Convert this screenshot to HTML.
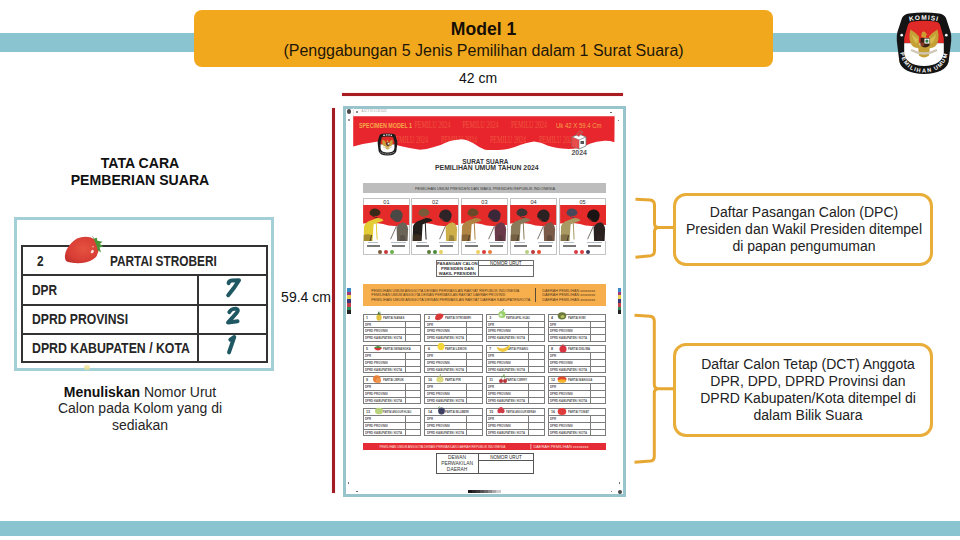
<!DOCTYPE html>
<html><head><meta charset="utf-8">
<style>
*{margin:0;padding:0;box-sizing:border-box}
html,body{width:960px;height:540px;overflow:hidden;background:#fff}
body{position:relative;font-family:"Liberation Sans",sans-serif;color:#111}
.a{position:absolute}
svg{display:block}
.c{text-align:center;white-space:nowrap}
.tt{position:absolute;font-size:13.8px;font-weight:bold;line-height:15px;color:#262626;transform:scaleX(0.858);transform-origin:0 0;white-space:nowrap}
</style></head><body>
<!-- top blue bar -->
<div class="a" style="left:0;top:33px;width:960px;height:18.5px;background:#89C4D0"></div>
<!-- orange title box -->
<div class="a" style="left:194px;top:10px;width:579px;height:57px;background:#F2A81D;border-radius:8px"></div>
<div class="a c" style="left:194px;top:19.3px;width:579px;font-size:17.6px;font-weight:bold;line-height:20px;color:#150f05">Model 1</div>
<div class="a c" style="left:194px;top:40.5px;width:579px;font-size:16px;line-height:19px;color:#1d160a">(Penggabungan 5 Jenis Pemilihan dalam 1 Surat Suara)</div>

<!-- logo -->
<svg class="a" style="left:892px;top:8px" width="64" height="70" viewBox="0 0 64 70">
<defs>
<path id="kt" d="M14.5 14.2 Q32 9.2 49.5 14.2"/>
<path id="kb" d="M7.8 39 Q9 64.4 32 64.4 Q55 64.4 56.2 39"/>
<clipPath id="kc"><path d="M19.5 13.8 Q32 11.8 44.5 13.8 Q47 14.3 48 16.8 L51.8 30 L51.8 45 Q50 57.5 32 58 Q14 57.5 12.2 45 L12.2 30 L16 16.8 Q17 14.3 19.5 13.8 Z"/></clipPath>
</defs>
<path d="M17 5.6 Q32 3.6 47 5.6 Q52 6.2 54 10 L58.6 24 Q59.6 28 59.2 33 L56.6 54 Q53 65.6 32 65.9 Q11 65.6 7.4 54 L4.8 33 Q4.4 28 5.4 24 L10 10 Q12 6.2 17 5.6 Z" fill="#141414"/>
<g clip-path="url(#kc)">
<rect x="0" y="0" width="64" height="35.2" fill="#E02A27"/>
<rect x="0" y="35.2" width="64" height="34" fill="#fff"/>
</g>
<!-- garuda -->
<path d="M28 38.5 Q26.5 33 27 28.5 Q23 24 18.5 21.5 Q17 26 17.6 31 Q18.5 36.5 21 38.5 Q24 40.5 28 40 Z" fill="#C4A035"/>
<path d="M36 38.5 Q37.5 33 37 28.5 Q41 24 45.5 21.5 Q47 26 46.4 31 Q45.5 36.5 43 38.5 Q40 40.5 36 40 Z" fill="#C4A035"/>
<path d="M25 36 Q21 33 20 26 Q23 30 26 31 Z" fill="#DCC458" opacity="0.8"/>
<path d="M39 36 Q43 33 44 26 Q41 30 38 31 Z" fill="#DCC458" opacity="0.8"/>
<path d="M29.5 29 Q29 24.5 31 23.5 Q33.5 23 34 25.5 L35.5 27 L33.8 27.5 L34.5 30 Z" fill="#CE9E32"/>
<path d="M26 38 L38 38 L37 47.5 Q32 51.5 27 47.5 Z" fill="#C4A035"/>
<path d="M19 42 Q32 49 45 42" stroke="#CFC8B8" stroke-width="2.4" fill="none"/>
<path d="M28.5 30 L37.6 30 L37.6 37.5 Q33 41.5 28.5 37.5 Z" fill="#3a2418"/>
<rect x="32.4" y="30.6" width="5" height="5" fill="#F4F4F4"/>
<circle cx="34.9" cy="33.1" r="1.6" fill="#2E7D4A"/>
<rect x="28.8" y="34.6" width="3.4" height="3.4" fill="#8B3A22"/>
<circle cx="9.7" cy="27.2" r="1.35" fill="#fff"/>
<circle cx="54.3" cy="27.2" r="1.35" fill="#fff"/>
<text font-family="Liberation Sans" font-weight="bold" font-size="6.6" fill="#fff" letter-spacing="1"><textPath href="#kt" startOffset="50%" text-anchor="middle">KOMISI</textPath></text>
<text font-family="Liberation Sans" font-weight="bold" font-size="5.6" fill="#fff" letter-spacing="1.3"><textPath href="#kb" startOffset="50%" text-anchor="middle">PEMILIHAN UMUM</textPath></text>
</svg>

<!-- 42 cm -->
<div class="a c" style="left:428px;top:70px;width:100px;font-size:14px;line-height:16px;color:#111">42 cm</div>
<div class="a" style="left:342px;top:93px;width:281px;height:2.6px;background:#A81C22;box-shadow:0 0 1px rgba(235,90,95,0.7)"></div>
<!-- vertical red -->
<div class="a" style="left:332.4px;top:107.6px;width:2.5px;height:385.6px;background:#A21C24;box-shadow:0 0 1px rgba(235,90,95,0.7)"></div>
<div class="a c" style="left:281px;top:289px;width:50px;font-size:14px;line-height:16px;color:#111">59.4 cm</div>

<!-- ballot frame -->
<!-- BALLOT START -->
<div class="a" style="left:343px;top:106px;width:283px;height:391px;border:3px solid #97C4CD;background:#fff"></div>
<div class="a" style="left:353px;top:108.4px;width:1px;height:8px;background:#e6e6e6"></div>
<div class="a" style="left:346.8px;top:109.39999999999999px;width:4.4px;height:4.4px;border-radius:50%;background:#4a4a4a"></div>
<div class="a" style="left:356.3px;top:110.8px;width:1.8px;height:1.8px;border-radius:50%;background:#666"></div>
<div class="a" style="left:348.1px;top:119.1px;width:1.8px;height:1.8px;border-radius:50%;background:#777"></div>
<div class="a" style="left:610.1px;top:111.9px;width:1.6px;height:1.6px;border-radius:50%;background:#555"></div>
<div class="a" style="left:617.8000000000001px;top:119.60000000000001px;width:1.6px;height:1.6px;border-radius:50%;background:#555"></div>
<div class="a" style="left:347.9px;top:482.2px;width:1.6px;height:1.6px;border-radius:50%;background:#555"></div>
<div class="a" style="left:356.2px;top:490.5px;width:1.6px;height:1.6px;border-radius:50%;background:#555"></div>
<div class="a" style="left:618.5px;top:482.2px;width:1.6px;height:1.6px;border-radius:50%;background:#555"></div>
<div class="a" style="left:610.5px;top:490.9px;width:1.6px;height:1.6px;border-radius:50%;background:#555"></div>
<div class="a" style="left:617.6px;top:489.59999999999997px;width:4.2px;height:4.2px;border-radius:50%;background:#4a4a4a"></div>
<svg class="a" style="left:360px;top:108px" width="30" height="5" viewBox="0 0 30 5"><text x="1.5" y="3.8" textLength="25" lengthAdjust="spacingAndGlyphs" font-family="Liberation Sans" font-size="3.4" fill="#9a9a9a">A 42 X 59 4 CM 2024</text></svg>
<svg class="a" style="left:350px;top:112px" width="270" height="48" viewBox="350 112 270 48">
<defs><clipPath id="rbclip"><path d="M353.2 116.2 L614.6 116.2 L614.4 142.2 Q609 140.5 604.5 140.8 Q596 141.6 590.5 143.6 Q583 147.5 576 148.6 Q569 149.2 562 148.6 Q553 147.5 548 145.8 Q541 142 534 141.5 Q526 142.5 520 145 Q510 149.5 499 150 Q490 150 485 149.7 Q478 147 473.8 143.6 Q466 139 459.7 139.4 Q453 140 448.5 141.5 Q440 145.5 434 147 Q426 149.7 420 149.7 Q410 148.5 399 145.8 Q390 142 378 141.5 Q366 143 353.2 146.5 Z"/></clipPath></defs>
<path d="M353.2 116.2 L614.6 116.2 L614.4 142.2 Q609 140.5 604.5 140.8 Q596 141.6 590.5 143.6 Q583 147.5 576 148.6 Q569 149.2 562 148.6 Q553 147.5 548 145.8 Q541 142 534 141.5 Q526 142.5 520 145 Q510 149.5 499 150 Q490 150 485 149.7 Q478 147 473.8 143.6 Q466 139 459.7 139.4 Q453 140 448.5 141.5 Q440 145.5 434 147 Q426 149.7 420 149.7 Q410 148.5 399 145.8 Q390 142 378 141.5 Q366 143 353.2 146.5 Z" fill="#E8262D"/>
<g font-family="Liberation Serif" font-size="9.6" fill="#F5774F" opacity="0.55" clip-path="url(#rbclip)">
<text x="414.4" y="128" textLength="36" lengthAdjust="spacingAndGlyphs">PEMILU 2024</text>
<text x="462.5" y="128" textLength="36" lengthAdjust="spacingAndGlyphs">PEMILU 2024</text>
<text x="511" y="128" textLength="36" lengthAdjust="spacingAndGlyphs">PEMILU 2024</text>
<text x="392" y="143" textLength="36" lengthAdjust="spacingAndGlyphs">PEMILU 2024</text>
<text x="441" y="143" textLength="36" lengthAdjust="spacingAndGlyphs">PEMILU 2024</text>
<text x="490" y="143" textLength="36" lengthAdjust="spacingAndGlyphs">PEMILU 2024</text>
<text x="539" y="143" textLength="36" lengthAdjust="spacingAndGlyphs">PEMILU 2024</text>
</g>
<text x="359" y="128" textLength="53" lengthAdjust="spacingAndGlyphs" font-family="Liberation Sans" font-weight="bold" font-size="7" fill="#F7A84A">SPECIMEN MODEL 1</text>
<text x="556" y="128" textLength="45.5" lengthAdjust="spacingAndGlyphs" font-family="Liberation Sans" font-size="7" fill="#F7A24A">Uk 42 X 59.4 Cm</text>
</svg>
<svg class="a" style="left:377.4px;top:133.4px" width="21" height="22.6" viewBox="4.4 3.4 55.2 62.8">
<defs><clipPath id="kc2"><path d="M19.5 13.8 Q32 11.8 44.5 13.8 Q47 14.3 48 16.8 L51.8 30 L51.8 45 Q50 57.5 32 58 Q14 57.5 12.2 45 L12.2 30 L16 16.8 Q17 14.3 19.5 13.8 Z"/></clipPath></defs>
<path d="M17 5.6 Q32 3.6 47 5.6 Q52 6.2 54 10 L58.6 24 Q59.6 28 59.2 33 L56.6 54 Q53 65.6 32 65.9 Q11 65.6 7.4 54 L4.8 33 Q4.4 28 5.4 24 L10 10 Q12 6.2 17 5.6 Z" fill="#1c1c1c"/>
<g clip-path="url(#kc2)"><rect x="0" y="0" width="64" height="35.2" fill="#E02A27"/><rect x="0" y="35.2" width="64" height="34" fill="#fff"/></g>
<path d="M28 38.5 Q26.5 33 27 28.5 Q23 24 18.5 21.5 Q17 26 17.6 31 Q18.5 36.5 21 38.5 Q24 40.5 28 40 Z" fill="#C9A035"/>
<path d="M36 38.5 Q37.5 33 37 28.5 Q41 24 45.5 21.5 Q47 26 46.4 31 Q45.5 36.5 43 38.5 Q40 40.5 36 40 Z" fill="#C9A035"/>
<path d="M29.5 29 Q29 24.5 31 23.5 Q33.5 23 34 25.5 L35.5 27 L33.8 27.5 L34.5 30 Z" fill="#CE9E32"/>
<path d="M26 38 L38 38 L37 47.5 Q32 51.5 27 47.5 Z" fill="#C9A035"/>
<path d="M19 42 Q32 49 45 42" stroke="#D8D0B8" stroke-width="2.6" fill="none"/>
<path d="M28.5 30 L37.6 30 L37.6 37.5 Q33 41.5 28.5 37.5 Z" fill="#4a2a18"/>
<rect x="32.4" y="30.6" width="5" height="5" fill="#eee"/>
<g fill="#fff" opacity="0.85"><rect x="20" y="8" width="5" height="3.5"/><rect x="27.5" y="7" width="4.5" height="3.5"/><rect x="34" y="7" width="4.5" height="3.5"/><rect x="40.5" y="8" width="4" height="3.5"/></g>
<path d="M12 56 Q32 68 52 56" stroke="#fff" stroke-width="2.5" stroke-dasharray="3 1.6" fill="none" opacity="0.7"/>
</svg>
<svg class="a" style="left:569px;top:129px" width="20" height="27" viewBox="0 0 20 27">
<path d="M3 8 L10 5 L17 8 L17 17 L10 20 L3 17 Z" fill="#fff" stroke="#777" stroke-width="0.8"/>
<path d="M3 8 L10 11 L17 8 M10 11 L10 20" fill="none" stroke="#777" stroke-width="0.7"/>
<path d="M3 8 L10 11 L10 20 L3 17 Z" fill="#E63A3A" opacity="0.9"/>
<path d="M7 6 L11 1.5 L14 3 L10 7.5 Z" fill="#E63A3A" stroke="#888" stroke-width="0.5"/>
<rect x="11.5" y="12" width="3.5" height="3" fill="#555"/>
<text x="2.5" y="25.6" textLength="15.5" lengthAdjust="spacingAndGlyphs" font-family="Liberation Sans" font-size="6.6" font-weight="bold" fill="#555">2024</text>
</svg>
<svg class="a" style="left:420px;top:155px" width="131" height="18" viewBox="0 0 131 18"><g font-family="Liberation Sans" font-weight="bold" font-size="6.9" fill="#333"><text x="42.3" y="8.6" textLength="46.2" lengthAdjust="spacingAndGlyphs">SURAT SUARA</text><text x="15" y="15.4" textLength="103.6" lengthAdjust="spacingAndGlyphs">PEMILIHAN UMUM TAHUN 2024</text></g></svg>
<div class="a" style="left:363px;top:183px;width:243px;height:10px;background:#BDBDBD"></div>
<div class="a" style="left:363px;top:185.8px;width:243px;height:5px;overflow:hidden"><svg width="243" height="5" viewBox="0 0 243 5"><text x="52" y="3.9" textLength="140" lengthAdjust="spacingAndGlyphs" font-family="Liberation Sans" font-size="4" fill="#3a3a3a">PEMILIHAN UMUM PRESIDEN DAN WAKIL PRESIDEN REPUBLIK INDONESIA</text></svg></div>
<div class="a" style="left:362.5px;top:198.2px;width:47.8px;height:56.8px;border:0.8px solid #c4c4c4;background:#fff"></div>
<div class="a c" style="left:362.5px;top:199.6px;width:47.8px;font-size:5.6px;line-height:5px;color:#333">01</div>
<svg class="a" style="left:363.3px;top:205px" width="46.199999999999996" height="36" viewBox="0 0 46 36">
<rect x="0" y="0" width="46" height="36" fill="#fff"/>
<path d="M0 0 H46 V20 Q40 19 34 21 Q26 21.5 20 19 Q12 17.5 0 18.5 Z" fill="#E52A2A"/>
<path d="M0.5 36 L1 21 Q3 16.5 7.5 15.5 L14 13 Q19 12.8 20.5 15.5 Q17 17 13.5 18 L10.5 19.5 L9.5 36 Z" fill="#E4CC34"/>
<path d="M0.5 30 Q4.5 28.5 8.5 30 L9 36 H0.5 Z" fill="#5a4028" opacity="0.45"/>
<path d="M6.5 7.5 Q7.5 3.5 12 3.6 Q16.5 4.2 17.5 7.8 Q17 10.5 14 11 Q10 11.2 8 10.5 Q6.2 9.3 6.5 7.5 Z" fill="#3a2818"/>
<path d="M9.5 11 Q12 12.8 14.5 12.5" stroke="#3a2818" stroke-width="0.9" fill="none"/>
<path d="M13.2 18 L14 34.5" stroke="#E4CC34" stroke-width="1"/>
<path d="M7 36 L8.5 30" stroke="#3a3028" stroke-width="0.8"/>
<path d="M27 11.5 Q27.5 5 33 4.4 Q38.5 4.6 39.5 9 Q40 14 36 17 Q30 17.5 27 11.5 Z" fill="#4a4844"/>
<path d="M28 12.5 Q29.8 16 32.5 17 Q31 13.5 28 12.5 Z" fill="#B03030" opacity="0.8"/>
<path d="M34 36 L33.5 22.5 Q36 17.5 40.5 17.2 Q44.5 19 45 24 L44.5 36 Z" fill="#6a6358"/>
<path d="M36.5 36 L37.5 30 L41.5 30.5 L42.5 36 Z" fill="#3a3028" opacity="0.35"/>
<path d="M33.6 20.5 L27.5 34.2" stroke="#5a5048" stroke-width="0.8"/>
</svg>
<div class="a" style="left:368.0px;top:242.2px;width:10px;height:0.8px;background:#b4bcc8"></div>
<div class="a" style="left:390.5px;top:242.2px;width:15px;height:0.8px;background:#b4bcc8"></div>
<div class="a" style="left:367.0px;top:245px;width:13px;height:1.6px;background:#777"></div>
<div class="a" style="left:391.5px;top:245px;width:13px;height:1.6px;background:#777"></div>
<div class="a" style="left:378.0px;top:249.6px;width:4.2px;height:4px;border-radius:50%;background:#7a5a3a"></div>
<div class="a" style="left:384.0px;top:249.6px;width:4.2px;height:4px;border-radius:50%;background:#c83a3a"></div>
<div class="a" style="left:390.0px;top:249.6px;width:4.2px;height:4px;border-radius:50%;background:#6ab04a"></div>
<div class="a" style="left:411.3px;top:198.2px;width:47.8px;height:56.8px;border:0.8px solid #c4c4c4;background:#fff"></div>
<div class="a c" style="left:411.3px;top:199.6px;width:47.8px;font-size:5.6px;line-height:5px;color:#333">02</div>
<svg class="a" style="left:412.1px;top:205px" width="46.199999999999996" height="36" viewBox="0 0 46 36">
<rect x="0" y="0" width="46" height="36" fill="#fff"/>
<path d="M0 0 H46 V20 Q40 19 34 21 Q26 21.5 20 19 Q12 17.5 0 18.5 Z" fill="#E52A2A"/>
<path d="M0.5 36 L1 21 Q3 16.5 7.5 15.5 L14 13 Q19 12.8 20.5 15.5 Q17 17 13.5 18 L10.5 19.5 L9.5 36 Z" fill="#221c1a"/>
<path d="M0.5 30 Q4.5 28.5 8.5 30 L9 36 H0.5 Z" fill="#5a4028" opacity="0.45"/>
<path d="M6.5 7.5 Q7.5 3.5 12 3.6 Q16.5 4.2 17.5 7.8 Q17 10.5 14 11 Q10 11.2 8 10.5 Q6.2 9.3 6.5 7.5 Z" fill="#7a5a38"/>
<path d="M9.5 11 Q12 12.8 14.5 12.5" stroke="#7a5a38" stroke-width="0.9" fill="none"/>
<path d="M13.2 18 L14 34.5" stroke="#221c1a" stroke-width="1"/>
<path d="M7 36 L8.5 30" stroke="#3a3028" stroke-width="0.8"/>
<path d="M27 11.5 Q27.5 5 33 4.4 Q38.5 4.6 39.5 9 Q40 14 36 17 Q30 17.5 27 11.5 Z" fill="#2e2428"/>
<path d="M28 12.5 Q29.8 16 32.5 17 Q31 13.5 28 12.5 Z" fill="#B03030" opacity="0.8"/>
<path d="M34 36 L33.5 22.5 Q36 17.5 40.5 17.2 Q44.5 19 45 24 L44.5 36 Z" fill="#CDAE48"/>
<path d="M36.5 36 L37.5 30 L41.5 30.5 L42.5 36 Z" fill="#3a3028" opacity="0.35"/>
<path d="M33.6 20.5 L27.5 34.2" stroke="#5a5048" stroke-width="0.8"/>
</svg>
<div class="a" style="left:416.8px;top:242.2px;width:10px;height:0.8px;background:#b4bcc8"></div>
<div class="a" style="left:439.3px;top:242.2px;width:15px;height:0.8px;background:#b4bcc8"></div>
<div class="a" style="left:415.8px;top:245px;width:13px;height:1.6px;background:#777"></div>
<div class="a" style="left:440.3px;top:245px;width:13px;height:1.6px;background:#777"></div>
<div class="a" style="left:426.8px;top:249.6px;width:4.2px;height:4px;border-radius:50%;background:#5a7a3a"></div>
<div class="a" style="left:432.8px;top:249.6px;width:4.2px;height:4px;border-radius:50%;background:#4a8a3a"></div>
<div class="a" style="left:438.8px;top:249.6px;width:4.2px;height:4px;border-radius:50%;background:#e6d060"></div>
<div class="a" style="left:460.5px;top:198.2px;width:47.8px;height:56.8px;border:0.8px solid #c4c4c4;background:#fff"></div>
<div class="a c" style="left:460.5px;top:199.6px;width:47.8px;font-size:5.6px;line-height:5px;color:#333">03</div>
<svg class="a" style="left:461.3px;top:205px" width="46.199999999999996" height="36" viewBox="0 0 46 36">
<rect x="0" y="0" width="46" height="36" fill="#fff"/>
<path d="M0 0 H46 V20 Q40 19 34 21 Q26 21.5 20 19 Q12 17.5 0 18.5 Z" fill="#E52A2A"/>
<path d="M0.5 36 L1 21 Q3 16.5 7.5 15.5 L14 13 Q19 12.8 20.5 15.5 Q17 17 13.5 18 L10.5 19.5 L9.5 36 Z" fill="#B08442"/>
<path d="M0.5 30 Q4.5 28.5 8.5 30 L9 36 H0.5 Z" fill="#5a4028" opacity="0.45"/>
<path d="M6.5 7.5 Q7.5 3.5 12 3.6 Q16.5 4.2 17.5 7.8 Q17 10.5 14 11 Q10 11.2 8 10.5 Q6.2 9.3 6.5 7.5 Z" fill="#6a4828"/>
<path d="M9.5 11 Q12 12.8 14.5 12.5" stroke="#6a4828" stroke-width="0.9" fill="none"/>
<path d="M13.2 18 L14 34.5" stroke="#B08442" stroke-width="1"/>
<path d="M7 36 L8.5 30" stroke="#3a3028" stroke-width="0.8"/>
<path d="M27 11.5 Q27.5 5 33 4.4 Q38.5 4.6 39.5 9 Q40 14 36 17 Q30 17.5 27 11.5 Z" fill="#3a2838"/>
<path d="M28 12.5 Q29.8 16 32.5 17 Q31 13.5 28 12.5 Z" fill="#B03030" opacity="0.8"/>
<path d="M34 36 L33.5 22.5 Q36 17.5 40.5 17.2 Q44.5 19 45 24 L44.5 36 Z" fill="#6a3a4a"/>
<path d="M36.5 36 L37.5 30 L41.5 30.5 L42.5 36 Z" fill="#3a3028" opacity="0.35"/>
<path d="M33.6 20.5 L27.5 34.2" stroke="#5a5048" stroke-width="0.8"/>
</svg>
<div class="a" style="left:466.0px;top:242.2px;width:10px;height:0.8px;background:#b4bcc8"></div>
<div class="a" style="left:488.5px;top:242.2px;width:15px;height:0.8px;background:#b4bcc8"></div>
<div class="a" style="left:465.0px;top:245px;width:13px;height:1.6px;background:#777"></div>
<div class="a" style="left:489.5px;top:245px;width:13px;height:1.6px;background:#777"></div>
<div class="a" style="left:476.0px;top:249.6px;width:4.2px;height:4px;border-radius:50%;background:#f0d060"></div>
<div class="a" style="left:482.0px;top:249.6px;width:4.2px;height:4px;border-radius:50%;background:#d83a3a"></div>
<div class="a" style="left:488.0px;top:249.6px;width:4.2px;height:4px;border-radius:50%;background:#e8803a"></div>
<div class="a" style="left:509.6px;top:198.2px;width:47.8px;height:56.8px;border:0.8px solid #c4c4c4;background:#fff"></div>
<div class="a c" style="left:509.6px;top:199.6px;width:47.8px;font-size:5.6px;line-height:5px;color:#333">04</div>
<svg class="a" style="left:510.40000000000003px;top:205px" width="46.199999999999996" height="36" viewBox="0 0 46 36">
<rect x="0" y="0" width="46" height="36" fill="#fff"/>
<path d="M0 0 H46 V20 Q40 19 34 21 Q26 21.5 20 19 Q12 17.5 0 18.5 Z" fill="#E52A2A"/>
<path d="M0.5 36 L1 21 Q3 16.5 7.5 15.5 L14 13 Q19 12.8 20.5 15.5 Q17 17 13.5 18 L10.5 19.5 L9.5 36 Z" fill="#8a7a5a"/>
<path d="M0.5 30 Q4.5 28.5 8.5 30 L9 36 H0.5 Z" fill="#5a4028" opacity="0.45"/>
<path d="M6.5 7.5 Q7.5 3.5 12 3.6 Q16.5 4.2 17.5 7.8 Q17 10.5 14 11 Q10 11.2 8 10.5 Q6.2 9.3 6.5 7.5 Z" fill="#3a3434"/>
<path d="M9.5 11 Q12 12.8 14.5 12.5" stroke="#3a3434" stroke-width="0.9" fill="none"/>
<path d="M13.2 18 L14 34.5" stroke="#8a7a5a" stroke-width="1"/>
<path d="M7 36 L8.5 30" stroke="#3a3028" stroke-width="0.8"/>
<path d="M27 11.5 Q27.5 5 33 4.4 Q38.5 4.6 39.5 9 Q40 14 36 17 Q30 17.5 27 11.5 Z" fill="#2a2222"/>
<path d="M28 12.5 Q29.8 16 32.5 17 Q31 13.5 28 12.5 Z" fill="#B03030" opacity="0.8"/>
<path d="M34 36 L33.5 22.5 Q36 17.5 40.5 17.2 Q44.5 19 45 24 L44.5 36 Z" fill="#7a5a48"/>
<path d="M36.5 36 L37.5 30 L41.5 30.5 L42.5 36 Z" fill="#3a3028" opacity="0.35"/>
<path d="M33.6 20.5 L27.5 34.2" stroke="#5a5048" stroke-width="0.8"/>
</svg>
<div class="a" style="left:515.1px;top:242.2px;width:10px;height:0.8px;background:#b4bcc8"></div>
<div class="a" style="left:537.6px;top:242.2px;width:15px;height:0.8px;background:#b4bcc8"></div>
<div class="a" style="left:514.1px;top:245px;width:13px;height:1.6px;background:#777"></div>
<div class="a" style="left:538.6px;top:245px;width:13px;height:1.6px;background:#777"></div>
<div class="a" style="left:525.1px;top:249.6px;width:4.2px;height:4px;border-radius:50%;background:#b8d080"></div>
<div class="a" style="left:531.1px;top:249.6px;width:4.2px;height:4px;border-radius:50%;background:#b83a3a"></div>
<div class="a" style="left:537.1px;top:249.6px;width:4.2px;height:4px;border-radius:50%;background:#e84a2a"></div>
<div class="a" style="left:558.7px;top:198.2px;width:47.8px;height:56.8px;border:0.8px solid #c4c4c4;background:#fff"></div>
<div class="a c" style="left:558.7px;top:199.6px;width:47.8px;font-size:5.6px;line-height:5px;color:#333">05</div>
<svg class="a" style="left:559.5px;top:205px" width="46.199999999999996" height="36" viewBox="0 0 46 36">
<rect x="0" y="0" width="46" height="36" fill="#fff"/>
<path d="M0 0 H46 V20 Q40 19 34 21 Q26 21.5 20 19 Q12 17.5 0 18.5 Z" fill="#E52A2A"/>
<path d="M0.5 36 L1 21 Q3 16.5 7.5 15.5 L14 13 Q19 12.8 20.5 15.5 Q17 17 13.5 18 L10.5 19.5 L9.5 36 Z" fill="#A89A62"/>
<path d="M0.5 30 Q4.5 28.5 8.5 30 L9 36 H0.5 Z" fill="#5a4028" opacity="0.45"/>
<path d="M6.5 7.5 Q7.5 3.5 12 3.6 Q16.5 4.2 17.5 7.8 Q17 10.5 14 11 Q10 11.2 8 10.5 Q6.2 9.3 6.5 7.5 Z" fill="#4a4858"/>
<path d="M9.5 11 Q12 12.8 14.5 12.5" stroke="#4a4858" stroke-width="0.9" fill="none"/>
<path d="M13.2 18 L14 34.5" stroke="#A89A62" stroke-width="1"/>
<path d="M7 36 L8.5 30" stroke="#3a3028" stroke-width="0.8"/>
<path d="M27 11.5 Q27.5 5 33 4.4 Q38.5 4.6 39.5 9 Q40 14 36 17 Q30 17.5 27 11.5 Z" fill="#1a1414"/>
<path d="M28 12.5 Q29.8 16 32.5 17 Q31 13.5 28 12.5 Z" fill="#B03030" opacity="0.8"/>
<path d="M34 36 L33.5 22.5 Q36 17.5 40.5 17.2 Q44.5 19 45 24 L44.5 36 Z" fill="#2a2020"/>
<path d="M36.5 36 L37.5 30 L41.5 30.5 L42.5 36 Z" fill="#3a3028" opacity="0.35"/>
<path d="M33.6 20.5 L27.5 34.2" stroke="#5a5048" stroke-width="0.8"/>
</svg>
<div class="a" style="left:564.2px;top:242.2px;width:10px;height:0.8px;background:#b4bcc8"></div>
<div class="a" style="left:586.7px;top:242.2px;width:15px;height:0.8px;background:#b4bcc8"></div>
<div class="a" style="left:563.2px;top:245px;width:13px;height:1.6px;background:#777"></div>
<div class="a" style="left:587.7px;top:245px;width:13px;height:1.6px;background:#777"></div>
<div class="a" style="left:574.2px;top:249.6px;width:4.2px;height:4px;border-radius:50%;background:#d83a46"></div>
<div class="a" style="left:580.2px;top:249.6px;width:4.2px;height:4px;border-radius:50%;background:#e03a3a"></div>
<div class="a" style="left:586.2px;top:249.6px;width:4.2px;height:4px;border-radius:50%;background:#3e4060"></div>
<div class="a" style="left:436.3px;top:259.6px;width:97.4px;height:17px;border:0.9px solid #6a6a6a"></div>
<div class="a" style="left:478px;top:259.6px;width:0.9px;height:17px;background:#6a6a6a"></div>
<div class="a" style="left:478px;top:265px;width:55.7px;height:0.9px;background:#6a6a6a"></div>
<div class="a c" style="left:436.3px;top:261px;width:42px;font-size:4.3px;line-height:5px;font-weight:bold;color:#333">PASANGAN CALON<br>PRESIDEN DAN<br>WAKIL PRESIDEN</div>
<div class="a c" style="left:478px;top:260.8px;width:55.7px;font-size:4.6px;line-height:5px;color:#222">NOMOR URUT</div>
<div class="a" style="left:347.3px;top:288px;width:3.4px;height:26.4px;background:linear-gradient(180deg,#3b8ac8 0.00% 14.29%,#a03a7a 14.29% 28.57%,#e8d050 28.57% 42.86%,#3a3a7a 42.86% 57.14%,#c8404a 57.14% 71.43%,#2a8a5a 71.43% 85.71%,#222222 85.71% 100.00%)"></div>
<div class="a" style="left:618.1px;top:288px;width:3.4px;height:26.4px;background:linear-gradient(180deg,#3b8ac8 0.00% 14.29%,#a03a7a 14.29% 28.57%,#e8d050 28.57% 42.86%,#3a3a7a 42.86% 57.14%,#c8404a 57.14% 71.43%,#2a8a5a 71.43% 85.71%,#222222 85.71% 100.00%)"></div>
<div class="a" style="left:362.7px;top:284px;width:243.3px;height:22.2px;background:#F7AE4D"></div>
<svg class="a" style="left:362.7px;top:284px" width="243.3" height="22.2" viewBox="0 0 243.3 22.2"><g font-family="Liberation Sans" font-size="3.9" fill="#3a2a1a" opacity="0.85"><text x="8.3" y="8.0" textLength="148" lengthAdjust="spacingAndGlyphs">PEMILIHAN UMUM ANGGOTA DEWAN PERWAKILAN RAKYAT REPUBLIK INDONESIA</text><text x="179.3" y="8.0" textLength="53" lengthAdjust="spacingAndGlyphs">DAERAH PEMILIHAN xxxxxxxx</text><text x="8.3" y="12.4" textLength="134" lengthAdjust="spacingAndGlyphs">PEMILIHAN UMUM ANGGOTA DEWAN PERWAKILAN RAKYAT DAERAH PROVINSI</text><text x="179.3" y="12.4" textLength="53" lengthAdjust="spacingAndGlyphs">DAERAH PEMILIHAN xxxxxxxx</text><text x="8.3" y="16.8" textLength="159" lengthAdjust="spacingAndGlyphs">PEMILIHAN UMUM ANGGOTA DEWAN PERWAKILAN RAKYAT DAERAH KABUPATEN/KOTA</text><text x="179.3" y="16.8" textLength="53" lengthAdjust="spacingAndGlyphs">DAERAH PEMILIHAN xxxxxxxx</text></g></svg>
<div class="a" style="left:535px;top:288px;width:0.8px;height:14px;background:#5a4a3a"></div>
<div class="a" style="left:362.6px;top:314px;width:58.8px;height:28px;border:0.9px solid #7c7c7c;background:#fff"></div>
<div class="a" style="left:362.6px;top:320.6px;width:58.8px;height:0.9px;background:#7c7c7c"></div>
<div class="a" style="left:362.6px;top:327.4px;width:58.8px;height:0.9px;background:#7c7c7c"></div>
<div class="a" style="left:362.6px;top:334.4px;width:58.8px;height:0.9px;background:#7c7c7c"></div>
<div class="a" style="left:404.6px;top:320.6px;width:0.9px;height:21.4px;background:#7c7c7c"></div>
<div class="a" style="left:366.1px;top:315.6px;font-size:3.6px;line-height:4px;font-weight:bold;color:#444;white-space:nowrap">1</div>
<div class="a" style="left:383.0px;top:315.8px;font-size:3.4px;line-height:4px;font-weight:bold;color:#555;white-space:nowrap;transform:scaleX(0.85);transform-origin:0 0">PARTAI NANAS</div>
<div class="a" style="left:365.20000000000005px;top:322.6px;font-size:3.4px;line-height:4px;font-weight:bold;color:#555;white-space:nowrap;transform:scaleX(0.85);transform-origin:0 0">DPR</div>
<div class="a" style="left:365.20000000000005px;top:329.4px;font-size:3.4px;line-height:4px;font-weight:bold;color:#555;white-space:nowrap;transform:scaleX(0.85);transform-origin:0 0">DPRD PROVINSI</div>
<div class="a" style="left:365.20000000000005px;top:336.3px;font-size:3.4px;line-height:4px;font-weight:bold;color:#555;white-space:nowrap;transform:scaleX(0.85);transform-origin:0 0">DPRD KABUPATEN / KOTA</div>
<svg class="a" style="left:374.0px;top:311.2px" width="10" height="10" viewBox="0 0 10 10"><ellipse cx="5" cy="6.5" rx="2.6" ry="3.2" fill="#E2C23E"/><path d="M3.5 3.5 L4.5 0 L5.2 3 L6 0 L6.6 3.5 Z" fill="#3a6a2a"/></svg>
<div class="a" style="left:424.4px;top:314px;width:58.8px;height:28px;border:0.9px solid #7c7c7c;background:#fff"></div>
<div class="a" style="left:424.4px;top:320.6px;width:58.8px;height:0.9px;background:#7c7c7c"></div>
<div class="a" style="left:424.4px;top:327.4px;width:58.8px;height:0.9px;background:#7c7c7c"></div>
<div class="a" style="left:424.4px;top:334.4px;width:58.8px;height:0.9px;background:#7c7c7c"></div>
<div class="a" style="left:466.4px;top:320.6px;width:0.9px;height:21.4px;background:#7c7c7c"></div>
<div class="a" style="left:427.9px;top:315.6px;font-size:3.6px;line-height:4px;font-weight:bold;color:#444;white-space:nowrap">2</div>
<div class="a" style="left:444.79999999999995px;top:315.8px;font-size:3.4px;line-height:4px;font-weight:bold;color:#555;white-space:nowrap;transform:scaleX(0.85);transform-origin:0 0">PARTAI STROBERI</div>
<div class="a" style="left:427.0px;top:322.6px;font-size:3.4px;line-height:4px;font-weight:bold;color:#555;white-space:nowrap;transform:scaleX(0.85);transform-origin:0 0">DPR</div>
<div class="a" style="left:427.0px;top:329.4px;font-size:3.4px;line-height:4px;font-weight:bold;color:#555;white-space:nowrap;transform:scaleX(0.85);transform-origin:0 0">DPRD PROVINSI</div>
<div class="a" style="left:427.0px;top:336.3px;font-size:3.4px;line-height:4px;font-weight:bold;color:#555;white-space:nowrap;transform:scaleX(0.85);transform-origin:0 0">DPRD KABUPATEN / KOTA</div>
<svg class="a" style="left:434.4px;top:311.7px" width="10" height="9" viewBox="0 0 10 9"><path d="M1 7 Q1 2 5 1.5 Q9 1 9.5 3 Q9 7 5 8 Q2 8.5 1 7 Z" fill="#D83A3A"/></svg>
<div class="a" style="left:485.8px;top:314px;width:58.8px;height:28px;border:0.9px solid #7c7c7c;background:#fff"></div>
<div class="a" style="left:485.8px;top:320.6px;width:58.8px;height:0.9px;background:#7c7c7c"></div>
<div class="a" style="left:485.8px;top:327.4px;width:58.8px;height:0.9px;background:#7c7c7c"></div>
<div class="a" style="left:485.8px;top:334.4px;width:58.8px;height:0.9px;background:#7c7c7c"></div>
<div class="a" style="left:527.8px;top:320.6px;width:0.9px;height:21.4px;background:#7c7c7c"></div>
<div class="a" style="left:489.3px;top:315.6px;font-size:3.6px;line-height:4px;font-weight:bold;color:#444;white-space:nowrap">3</div>
<div class="a" style="left:506.2px;top:315.8px;font-size:3.4px;line-height:4px;font-weight:bold;color:#555;white-space:nowrap;transform:scaleX(0.72);transform-origin:0 0">PARTAI APEL HIJAU</div>
<div class="a" style="left:488.40000000000003px;top:322.6px;font-size:3.4px;line-height:4px;font-weight:bold;color:#555;white-space:nowrap;transform:scaleX(0.85);transform-origin:0 0">DPR</div>
<div class="a" style="left:488.40000000000003px;top:329.4px;font-size:3.4px;line-height:4px;font-weight:bold;color:#555;white-space:nowrap;transform:scaleX(0.85);transform-origin:0 0">DPRD PROVINSI</div>
<div class="a" style="left:488.40000000000003px;top:336.3px;font-size:3.4px;line-height:4px;font-weight:bold;color:#555;white-space:nowrap;transform:scaleX(0.85);transform-origin:0 0">DPRD KABUPATEN / KOTA</div>
<svg class="a" style="left:496.8px;top:309.2px" width="10" height="10" viewBox="0 0 10 10"><circle cx="5" cy="5.5" r="3.6" fill="#9AD06A"/><path d="M5.5 2 L7 0" stroke="#3a7a2a" stroke-width="0.8"/><circle cx="4" cy="6" r="1.6" fill="#fff" opacity="0.6"/></svg>
<div class="a" style="left:547.6px;top:314px;width:58.8px;height:28px;border:0.9px solid #7c7c7c;background:#fff"></div>
<div class="a" style="left:547.6px;top:320.6px;width:58.8px;height:0.9px;background:#7c7c7c"></div>
<div class="a" style="left:547.6px;top:327.4px;width:58.8px;height:0.9px;background:#7c7c7c"></div>
<div class="a" style="left:547.6px;top:334.4px;width:58.8px;height:0.9px;background:#7c7c7c"></div>
<div class="a" style="left:589.6px;top:320.6px;width:0.9px;height:21.4px;background:#7c7c7c"></div>
<div class="a" style="left:551.1px;top:315.6px;font-size:3.6px;line-height:4px;font-weight:bold;color:#444;white-space:nowrap">4</div>
<div class="a" style="left:568.0px;top:315.8px;font-size:3.4px;line-height:4px;font-weight:bold;color:#555;white-space:nowrap;transform:scaleX(0.85);transform-origin:0 0">PARTAI KIWI</div>
<div class="a" style="left:550.2px;top:322.6px;font-size:3.4px;line-height:4px;font-weight:bold;color:#555;white-space:nowrap;transform:scaleX(0.85);transform-origin:0 0">DPR</div>
<div class="a" style="left:550.2px;top:329.4px;font-size:3.4px;line-height:4px;font-weight:bold;color:#555;white-space:nowrap;transform:scaleX(0.85);transform-origin:0 0">DPRD PROVINSI</div>
<div class="a" style="left:550.2px;top:336.3px;font-size:3.4px;line-height:4px;font-weight:bold;color:#555;white-space:nowrap;transform:scaleX(0.85);transform-origin:0 0">DPRD KABUPATEN / KOTA</div>
<svg class="a" style="left:557.0px;top:311.2px" width="10" height="9" viewBox="0 0 10 9"><ellipse cx="5" cy="4.8" rx="4.3" ry="3.6" fill="#6B7A3A"/><ellipse cx="5.5" cy="5.5" rx="2" ry="1.5" fill="#B8C060"/></svg>
<div class="a" style="left:362.6px;top:345.4px;width:58.8px;height:28px;border:0.9px solid #7c7c7c;background:#fff"></div>
<div class="a" style="left:362.6px;top:352.0px;width:58.8px;height:0.9px;background:#7c7c7c"></div>
<div class="a" style="left:362.6px;top:358.79999999999995px;width:58.8px;height:0.9px;background:#7c7c7c"></div>
<div class="a" style="left:362.6px;top:365.79999999999995px;width:58.8px;height:0.9px;background:#7c7c7c"></div>
<div class="a" style="left:404.6px;top:352.0px;width:0.9px;height:21.4px;background:#7c7c7c"></div>
<div class="a" style="left:366.1px;top:347.0px;font-size:3.6px;line-height:4px;font-weight:bold;color:#444;white-space:nowrap">5</div>
<div class="a" style="left:383.0px;top:347.2px;font-size:3.4px;line-height:4px;font-weight:bold;color:#555;white-space:nowrap;transform:scaleX(0.85);transform-origin:0 0">PARTAI SEMANGKA</div>
<div class="a" style="left:365.20000000000005px;top:354.0px;font-size:3.4px;line-height:4px;font-weight:bold;color:#555;white-space:nowrap;transform:scaleX(0.85);transform-origin:0 0">DPR</div>
<div class="a" style="left:365.20000000000005px;top:360.79999999999995px;font-size:3.4px;line-height:4px;font-weight:bold;color:#555;white-space:nowrap;transform:scaleX(0.85);transform-origin:0 0">DPRD PROVINSI</div>
<div class="a" style="left:365.20000000000005px;top:367.7px;font-size:3.4px;line-height:4px;font-weight:bold;color:#555;white-space:nowrap;transform:scaleX(0.85);transform-origin:0 0">DPRD KABUPATEN / KOTA</div>
<svg class="a" style="left:372.6px;top:344.2px" width="10" height="9" viewBox="0 0 10 9"><path d="M0.8 4 Q5 9 9.2 4 Z" fill="#D8343A"/><path d="M0.8 4 Q5 0 9.2 4 Z" fill="#4a8a3a"/></svg>
<div class="a" style="left:424.4px;top:345.4px;width:58.8px;height:28px;border:0.9px solid #7c7c7c;background:#fff"></div>
<div class="a" style="left:424.4px;top:352.0px;width:58.8px;height:0.9px;background:#7c7c7c"></div>
<div class="a" style="left:424.4px;top:358.79999999999995px;width:58.8px;height:0.9px;background:#7c7c7c"></div>
<div class="a" style="left:424.4px;top:365.79999999999995px;width:58.8px;height:0.9px;background:#7c7c7c"></div>
<div class="a" style="left:466.4px;top:352.0px;width:0.9px;height:21.4px;background:#7c7c7c"></div>
<div class="a" style="left:427.9px;top:347.0px;font-size:3.6px;line-height:4px;font-weight:bold;color:#444;white-space:nowrap">6</div>
<div class="a" style="left:444.79999999999995px;top:347.2px;font-size:3.4px;line-height:4px;font-weight:bold;color:#555;white-space:nowrap;transform:scaleX(0.85);transform-origin:0 0">PARTAI LEMON</div>
<div class="a" style="left:427.0px;top:354.0px;font-size:3.4px;line-height:4px;font-weight:bold;color:#555;white-space:nowrap;transform:scaleX(0.85);transform-origin:0 0">DPR</div>
<div class="a" style="left:427.0px;top:360.79999999999995px;font-size:3.4px;line-height:4px;font-weight:bold;color:#555;white-space:nowrap;transform:scaleX(0.85);transform-origin:0 0">DPRD PROVINSI</div>
<div class="a" style="left:427.0px;top:367.7px;font-size:3.4px;line-height:4px;font-weight:bold;color:#555;white-space:nowrap;transform:scaleX(0.85);transform-origin:0 0">DPRD KABUPATEN / KOTA</div>
<svg class="a" style="left:435.59999999999997px;top:342.4px" width="10" height="9" viewBox="0 0 10 9"><ellipse cx="5" cy="4.5" rx="3.5" ry="3.8" fill="#F5D63A"/></svg>
<div class="a" style="left:485.8px;top:345.4px;width:58.8px;height:28px;border:0.9px solid #7c7c7c;background:#fff"></div>
<div class="a" style="left:485.8px;top:352.0px;width:58.8px;height:0.9px;background:#7c7c7c"></div>
<div class="a" style="left:485.8px;top:358.79999999999995px;width:58.8px;height:0.9px;background:#7c7c7c"></div>
<div class="a" style="left:485.8px;top:365.79999999999995px;width:58.8px;height:0.9px;background:#7c7c7c"></div>
<div class="a" style="left:527.8px;top:352.0px;width:0.9px;height:21.4px;background:#7c7c7c"></div>
<div class="a" style="left:489.3px;top:347.0px;font-size:3.6px;line-height:4px;font-weight:bold;color:#444;white-space:nowrap">7</div>
<div class="a" style="left:506.2px;top:347.2px;font-size:3.4px;line-height:4px;font-weight:bold;color:#555;white-space:nowrap;transform:scaleX(0.85);transform-origin:0 0">PARTAI PISANG</div>
<div class="a" style="left:488.40000000000003px;top:354.0px;font-size:3.4px;line-height:4px;font-weight:bold;color:#555;white-space:nowrap;transform:scaleX(0.85);transform-origin:0 0">DPR</div>
<div class="a" style="left:488.40000000000003px;top:360.79999999999995px;font-size:3.4px;line-height:4px;font-weight:bold;color:#555;white-space:nowrap;transform:scaleX(0.85);transform-origin:0 0">DPRD PROVINSI</div>
<div class="a" style="left:488.40000000000003px;top:367.7px;font-size:3.4px;line-height:4px;font-weight:bold;color:#555;white-space:nowrap;transform:scaleX(0.85);transform-origin:0 0">DPRD KABUPATEN / KOTA</div>
<svg class="a" style="left:495.5px;top:343.9px" width="15" height="9" viewBox="0 0 15 9"><path d="M0.5 2.5 Q7 7.5 13.5 0.5 L14 1.5 Q13 7 7 8 Q1.5 7.5 0.5 2.5 Z" fill="#F2CC40"/><path d="M2 4 Q7 7 12 3" stroke="#E0B030" stroke-width="0.5" fill="none"/></svg>
<div class="a" style="left:547.6px;top:345.4px;width:58.8px;height:28px;border:0.9px solid #7c7c7c;background:#fff"></div>
<div class="a" style="left:547.6px;top:352.0px;width:58.8px;height:0.9px;background:#7c7c7c"></div>
<div class="a" style="left:547.6px;top:358.79999999999995px;width:58.8px;height:0.9px;background:#7c7c7c"></div>
<div class="a" style="left:547.6px;top:365.79999999999995px;width:58.8px;height:0.9px;background:#7c7c7c"></div>
<div class="a" style="left:589.6px;top:352.0px;width:0.9px;height:21.4px;background:#7c7c7c"></div>
<div class="a" style="left:551.1px;top:347.0px;font-size:3.6px;line-height:4px;font-weight:bold;color:#444;white-space:nowrap">8</div>
<div class="a" style="left:568.0px;top:347.2px;font-size:3.4px;line-height:4px;font-weight:bold;color:#555;white-space:nowrap;transform:scaleX(0.85);transform-origin:0 0">PARTAI DELIMA</div>
<div class="a" style="left:550.2px;top:354.0px;font-size:3.4px;line-height:4px;font-weight:bold;color:#555;white-space:nowrap;transform:scaleX(0.85);transform-origin:0 0">DPR</div>
<div class="a" style="left:550.2px;top:360.79999999999995px;font-size:3.4px;line-height:4px;font-weight:bold;color:#555;white-space:nowrap;transform:scaleX(0.85);transform-origin:0 0">DPRD PROVINSI</div>
<div class="a" style="left:550.2px;top:367.7px;font-size:3.4px;line-height:4px;font-weight:bold;color:#555;white-space:nowrap;transform:scaleX(0.85);transform-origin:0 0">DPRD KABUPATEN / KOTA</div>
<svg class="a" style="left:557.8000000000001px;top:344.4px" width="10" height="9" viewBox="0 0 10 9"><circle cx="5" cy="5" r="3.6" fill="#D8333F"/><path d="M4 1.2 L5 0 L6 1.2" fill="#D8333F"/></svg>
<div class="a" style="left:362.6px;top:376.2px;width:58.8px;height:28px;border:0.9px solid #7c7c7c;background:#fff"></div>
<div class="a" style="left:362.6px;top:382.8px;width:58.8px;height:0.9px;background:#7c7c7c"></div>
<div class="a" style="left:362.6px;top:389.59999999999997px;width:58.8px;height:0.9px;background:#7c7c7c"></div>
<div class="a" style="left:362.6px;top:396.59999999999997px;width:58.8px;height:0.9px;background:#7c7c7c"></div>
<div class="a" style="left:404.6px;top:382.8px;width:0.9px;height:21.4px;background:#7c7c7c"></div>
<div class="a" style="left:366.1px;top:377.8px;font-size:3.6px;line-height:4px;font-weight:bold;color:#444;white-space:nowrap">9</div>
<div class="a" style="left:383.0px;top:378.0px;font-size:3.4px;line-height:4px;font-weight:bold;color:#555;white-space:nowrap;transform:scaleX(0.85);transform-origin:0 0">PARTAI JERUK</div>
<div class="a" style="left:365.20000000000005px;top:384.8px;font-size:3.4px;line-height:4px;font-weight:bold;color:#555;white-space:nowrap;transform:scaleX(0.85);transform-origin:0 0">DPR</div>
<div class="a" style="left:365.20000000000005px;top:391.59999999999997px;font-size:3.4px;line-height:4px;font-weight:bold;color:#555;white-space:nowrap;transform:scaleX(0.85);transform-origin:0 0">DPRD PROVINSI</div>
<div class="a" style="left:365.20000000000005px;top:398.5px;font-size:3.4px;line-height:4px;font-weight:bold;color:#555;white-space:nowrap;transform:scaleX(0.85);transform-origin:0 0">DPRD KABUPATEN / KOTA</div>
<svg class="a" style="left:372.0px;top:374.2px" width="10" height="9" viewBox="0 0 10 9"><circle cx="4.8" cy="5" r="3.8" fill="#E8803A"/><circle cx="6.5" cy="6.5" r="2.6" fill="#EE9550"/></svg>
<div class="a" style="left:424.4px;top:376.2px;width:58.8px;height:28px;border:0.9px solid #7c7c7c;background:#fff"></div>
<div class="a" style="left:424.4px;top:382.8px;width:58.8px;height:0.9px;background:#7c7c7c"></div>
<div class="a" style="left:424.4px;top:389.59999999999997px;width:58.8px;height:0.9px;background:#7c7c7c"></div>
<div class="a" style="left:424.4px;top:396.59999999999997px;width:58.8px;height:0.9px;background:#7c7c7c"></div>
<div class="a" style="left:466.4px;top:382.8px;width:0.9px;height:21.4px;background:#7c7c7c"></div>
<div class="a" style="left:427.9px;top:377.8px;font-size:3.6px;line-height:4px;font-weight:bold;color:#444;white-space:nowrap">10</div>
<div class="a" style="left:444.79999999999995px;top:378.0px;font-size:3.4px;line-height:4px;font-weight:bold;color:#555;white-space:nowrap;transform:scaleX(0.85);transform-origin:0 0">PARTAI PIR</div>
<div class="a" style="left:427.0px;top:384.8px;font-size:3.4px;line-height:4px;font-weight:bold;color:#555;white-space:nowrap;transform:scaleX(0.85);transform-origin:0 0">DPR</div>
<div class="a" style="left:427.0px;top:391.59999999999997px;font-size:3.4px;line-height:4px;font-weight:bold;color:#555;white-space:nowrap;transform:scaleX(0.85);transform-origin:0 0">DPRD PROVINSI</div>
<div class="a" style="left:427.0px;top:398.5px;font-size:3.4px;line-height:4px;font-weight:bold;color:#555;white-space:nowrap;transform:scaleX(0.85);transform-origin:0 0">DPRD KABUPATEN / KOTA</div>
<svg class="a" style="left:435.0px;top:374.3px" width="10" height="9" viewBox="0 0 10 9"><ellipse cx="5" cy="5.5" rx="3.6" ry="3" fill="#DEDC80"/><path d="M5 2.5 L5.5 0" stroke="#6a8a3a" stroke-width="0.7"/></svg>
<div class="a" style="left:485.8px;top:376.2px;width:58.8px;height:28px;border:0.9px solid #7c7c7c;background:#fff"></div>
<div class="a" style="left:485.8px;top:382.8px;width:58.8px;height:0.9px;background:#7c7c7c"></div>
<div class="a" style="left:485.8px;top:389.59999999999997px;width:58.8px;height:0.9px;background:#7c7c7c"></div>
<div class="a" style="left:485.8px;top:396.59999999999997px;width:58.8px;height:0.9px;background:#7c7c7c"></div>
<div class="a" style="left:527.8px;top:382.8px;width:0.9px;height:21.4px;background:#7c7c7c"></div>
<div class="a" style="left:489.3px;top:377.8px;font-size:3.6px;line-height:4px;font-weight:bold;color:#444;white-space:nowrap">11</div>
<div class="a" style="left:506.2px;top:378.0px;font-size:3.4px;line-height:4px;font-weight:bold;color:#555;white-space:nowrap;transform:scaleX(0.85);transform-origin:0 0">PARTAI CERRY</div>
<div class="a" style="left:488.40000000000003px;top:384.8px;font-size:3.4px;line-height:4px;font-weight:bold;color:#555;white-space:nowrap;transform:scaleX(0.85);transform-origin:0 0">DPR</div>
<div class="a" style="left:488.40000000000003px;top:391.59999999999997px;font-size:3.4px;line-height:4px;font-weight:bold;color:#555;white-space:nowrap;transform:scaleX(0.85);transform-origin:0 0">DPRD PROVINSI</div>
<div class="a" style="left:488.40000000000003px;top:398.5px;font-size:3.4px;line-height:4px;font-weight:bold;color:#555;white-space:nowrap;transform:scaleX(0.85);transform-origin:0 0">DPRD KABUPATEN / KOTA</div>
<svg class="a" style="left:497.6px;top:373.59999999999997px" width="10" height="9" viewBox="0 0 10 9"><circle cx="3" cy="7" r="2" fill="#B8323A"/><circle cx="7" cy="7" r="2" fill="#B8323A"/><path d="M3 5 L6 0.5 L7 5" stroke="#5a9a3a" stroke-width="0.7" fill="none"/></svg>
<div class="a" style="left:547.6px;top:376.2px;width:58.8px;height:28px;border:0.9px solid #7c7c7c;background:#fff"></div>
<div class="a" style="left:547.6px;top:382.8px;width:58.8px;height:0.9px;background:#7c7c7c"></div>
<div class="a" style="left:547.6px;top:389.59999999999997px;width:58.8px;height:0.9px;background:#7c7c7c"></div>
<div class="a" style="left:547.6px;top:396.59999999999997px;width:58.8px;height:0.9px;background:#7c7c7c"></div>
<div class="a" style="left:589.6px;top:382.8px;width:0.9px;height:21.4px;background:#7c7c7c"></div>
<div class="a" style="left:551.1px;top:377.8px;font-size:3.6px;line-height:4px;font-weight:bold;color:#444;white-space:nowrap">12</div>
<div class="a" style="left:568.0px;top:378.0px;font-size:3.4px;line-height:4px;font-weight:bold;color:#555;white-space:nowrap;transform:scaleX(0.85);transform-origin:0 0">PARTAI MANGGA</div>
<div class="a" style="left:550.2px;top:384.8px;font-size:3.4px;line-height:4px;font-weight:bold;color:#555;white-space:nowrap;transform:scaleX(0.85);transform-origin:0 0">DPR</div>
<div class="a" style="left:550.2px;top:391.59999999999997px;font-size:3.4px;line-height:4px;font-weight:bold;color:#555;white-space:nowrap;transform:scaleX(0.85);transform-origin:0 0">DPRD PROVINSI</div>
<div class="a" style="left:550.2px;top:398.5px;font-size:3.4px;line-height:4px;font-weight:bold;color:#555;white-space:nowrap;transform:scaleX(0.85);transform-origin:0 0">DPRD KABUPATEN / KOTA</div>
<svg class="a" style="left:556.5px;top:375.0px" width="10" height="9" viewBox="0 0 10 9"><ellipse cx="5" cy="4" rx="4.5" ry="2.6" fill="#E44A2A"/><ellipse cx="5" cy="6" rx="4.2" ry="1.8" fill="#F5B22A"/></svg>
<div class="a" style="left:362.6px;top:408.2px;width:58.8px;height:28px;border:0.9px solid #7c7c7c;background:#fff"></div>
<div class="a" style="left:362.6px;top:414.8px;width:58.8px;height:0.9px;background:#7c7c7c"></div>
<div class="a" style="left:362.6px;top:421.59999999999997px;width:58.8px;height:0.9px;background:#7c7c7c"></div>
<div class="a" style="left:362.6px;top:428.59999999999997px;width:58.8px;height:0.9px;background:#7c7c7c"></div>
<div class="a" style="left:404.6px;top:414.8px;width:0.9px;height:21.4px;background:#7c7c7c"></div>
<div class="a" style="left:366.1px;top:409.8px;font-size:3.6px;line-height:4px;font-weight:bold;color:#444;white-space:nowrap">13</div>
<div class="a" style="left:383.0px;top:410.0px;font-size:3.4px;line-height:4px;font-weight:bold;color:#555;white-space:nowrap;transform:scaleX(0.72);transform-origin:0 0">PARTAI ANGGUR HIJAU</div>
<div class="a" style="left:365.20000000000005px;top:416.8px;font-size:3.4px;line-height:4px;font-weight:bold;color:#555;white-space:nowrap;transform:scaleX(0.85);transform-origin:0 0">DPR</div>
<div class="a" style="left:365.20000000000005px;top:423.59999999999997px;font-size:3.4px;line-height:4px;font-weight:bold;color:#555;white-space:nowrap;transform:scaleX(0.85);transform-origin:0 0">DPRD PROVINSI</div>
<div class="a" style="left:365.20000000000005px;top:430.5px;font-size:3.4px;line-height:4px;font-weight:bold;color:#555;white-space:nowrap;transform:scaleX(0.85);transform-origin:0 0">DPRD KABUPATEN / KOTA</div>
<svg class="a" style="left:373.6px;top:405.5px" width="10" height="9" viewBox="0 0 10 9"><ellipse cx="5" cy="5" rx="4" ry="3.2" fill="#B8D37A"/></svg>
<div class="a" style="left:424.4px;top:408.2px;width:58.8px;height:28px;border:0.9px solid #7c7c7c;background:#fff"></div>
<div class="a" style="left:424.4px;top:414.8px;width:58.8px;height:0.9px;background:#7c7c7c"></div>
<div class="a" style="left:424.4px;top:421.59999999999997px;width:58.8px;height:0.9px;background:#7c7c7c"></div>
<div class="a" style="left:424.4px;top:428.59999999999997px;width:58.8px;height:0.9px;background:#7c7c7c"></div>
<div class="a" style="left:466.4px;top:414.8px;width:0.9px;height:21.4px;background:#7c7c7c"></div>
<div class="a" style="left:427.9px;top:409.8px;font-size:3.6px;line-height:4px;font-weight:bold;color:#444;white-space:nowrap">14</div>
<div class="a" style="left:444.79999999999995px;top:410.0px;font-size:3.4px;line-height:4px;font-weight:bold;color:#555;white-space:nowrap;transform:scaleX(0.85);transform-origin:0 0">PARTAI BLUBERI</div>
<div class="a" style="left:427.0px;top:416.8px;font-size:3.4px;line-height:4px;font-weight:bold;color:#555;white-space:nowrap;transform:scaleX(0.85);transform-origin:0 0">DPR</div>
<div class="a" style="left:427.0px;top:423.59999999999997px;font-size:3.4px;line-height:4px;font-weight:bold;color:#555;white-space:nowrap;transform:scaleX(0.85);transform-origin:0 0">DPRD PROVINSI</div>
<div class="a" style="left:427.0px;top:430.5px;font-size:3.4px;line-height:4px;font-weight:bold;color:#555;white-space:nowrap;transform:scaleX(0.85);transform-origin:0 0">DPRD KABUPATEN / KOTA</div>
<svg class="a" style="left:436.4px;top:405.7px" width="10" height="9" viewBox="0 0 10 9"><circle cx="5.5" cy="5" r="3.4" fill="#3E4060"/><path d="M2 2 L4 0.5" stroke="#6a9a4a" stroke-width="0.8"/></svg>
<div class="a" style="left:485.8px;top:408.2px;width:58.8px;height:28px;border:0.9px solid #7c7c7c;background:#fff"></div>
<div class="a" style="left:485.8px;top:414.8px;width:58.8px;height:0.9px;background:#7c7c7c"></div>
<div class="a" style="left:485.8px;top:421.59999999999997px;width:58.8px;height:0.9px;background:#7c7c7c"></div>
<div class="a" style="left:485.8px;top:428.59999999999997px;width:58.8px;height:0.9px;background:#7c7c7c"></div>
<div class="a" style="left:527.8px;top:414.8px;width:0.9px;height:21.4px;background:#7c7c7c"></div>
<div class="a" style="left:489.3px;top:409.8px;font-size:3.6px;line-height:4px;font-weight:bold;color:#444;white-space:nowrap">15</div>
<div class="a" style="left:506.2px;top:410.0px;font-size:3.4px;line-height:4px;font-weight:bold;color:#555;white-space:nowrap;transform:scaleX(0.72);transform-origin:0 0">PARTAI ANGGUR MERAH</div>
<div class="a" style="left:488.40000000000003px;top:416.8px;font-size:3.4px;line-height:4px;font-weight:bold;color:#555;white-space:nowrap;transform:scaleX(0.85);transform-origin:0 0">DPR</div>
<div class="a" style="left:488.40000000000003px;top:423.59999999999997px;font-size:3.4px;line-height:4px;font-weight:bold;color:#555;white-space:nowrap;transform:scaleX(0.85);transform-origin:0 0">DPRD PROVINSI</div>
<div class="a" style="left:488.40000000000003px;top:430.5px;font-size:3.4px;line-height:4px;font-weight:bold;color:#555;white-space:nowrap;transform:scaleX(0.85);transform-origin:0 0">DPRD KABUPATEN / KOTA</div>
<svg class="a" style="left:496.0px;top:406.2px" width="10" height="9" viewBox="0 0 10 9"><circle cx="3.5" cy="5" r="2.2" fill="#D23A46"/><circle cx="6.5" cy="5" r="2.2" fill="#D23A46"/><circle cx="5" cy="3" r="2" fill="#D23A46"/></svg>
<div class="a" style="left:547.6px;top:408.2px;width:58.8px;height:28px;border:0.9px solid #7c7c7c;background:#fff"></div>
<div class="a" style="left:547.6px;top:414.8px;width:58.8px;height:0.9px;background:#7c7c7c"></div>
<div class="a" style="left:547.6px;top:421.59999999999997px;width:58.8px;height:0.9px;background:#7c7c7c"></div>
<div class="a" style="left:547.6px;top:428.59999999999997px;width:58.8px;height:0.9px;background:#7c7c7c"></div>
<div class="a" style="left:589.6px;top:414.8px;width:0.9px;height:21.4px;background:#7c7c7c"></div>
<div class="a" style="left:551.1px;top:409.8px;font-size:3.6px;line-height:4px;font-weight:bold;color:#444;white-space:nowrap">16</div>
<div class="a" style="left:568.0px;top:410.0px;font-size:3.4px;line-height:4px;font-weight:bold;color:#555;white-space:nowrap;transform:scaleX(0.85);transform-origin:0 0">PARTAI TOMAT</div>
<div class="a" style="left:550.2px;top:416.8px;font-size:3.4px;line-height:4px;font-weight:bold;color:#555;white-space:nowrap;transform:scaleX(0.85);transform-origin:0 0">DPR</div>
<div class="a" style="left:550.2px;top:423.59999999999997px;font-size:3.4px;line-height:4px;font-weight:bold;color:#555;white-space:nowrap;transform:scaleX(0.85);transform-origin:0 0">DPRD PROVINSI</div>
<div class="a" style="left:550.2px;top:430.5px;font-size:3.4px;line-height:4px;font-weight:bold;color:#555;white-space:nowrap;transform:scaleX(0.85);transform-origin:0 0">DPRD KABUPATEN / KOTA</div>
<svg class="a" style="left:557.0px;top:407.2px" width="10" height="9" viewBox="0 0 10 9"><ellipse cx="5" cy="4.5" rx="4.3" ry="3.5" fill="#E03A3A"/></svg>
<div class="a" style="left:362.7px;top:442.8px;width:243px;height:7.4px;background:#E52B35"></div>
<svg class="a" style="left:362.7px;top:442.8px" width="243" height="7.4" viewBox="0 0 243 7.4"><g font-family="Liberation Sans" font-size="4" fill="#FCE0DC"><text x="16.3" y="5.2" textLength="126" lengthAdjust="spacingAndGlyphs">PEMILIHAN UMUM ANGGOTA DEWAN PERWAKILAN DAERAH REPUBLIK INDONESIA</text><text x="170.5" y="5.2" textLength="55" lengthAdjust="spacingAndGlyphs">DAERAH PEMILIHAN xxxxxxxx</text></g><rect x="167.6" y="1" width="0.7" height="5.4" fill="#FCE0DC"/></svg>
<div class="a" style="left:435.8px;top:453.4px;width:97.9px;height:20.2px;border:0.9px solid #555"></div>
<div class="a" style="left:478.3px;top:453.4px;width:0.9px;height:20.2px;background:#555"></div>
<div class="a" style="left:478.3px;top:460.2px;width:55.4px;height:0.9px;background:#555"></div>
<div class="a c" style="left:435.8px;top:455px;width:42.5px;font-size:4.9px;line-height:6px;color:#333">DEWAN<br>PERWAKILAN<br>DAERAH</div>
<div class="a c" style="left:478.3px;top:454.8px;width:55.4px;font-size:4.6px;line-height:5px;color:#222">NOMOR URUT</div>
<div class="a" style="left:467.6px;top:490px;width:33.7px;height:3px;background:linear-gradient(90deg,#1a1a1a 0 12%,#2a2a2a 12% 24%,#3a3a3a 24% 36%,#555 36% 48%,#6a6a6a 48% 60%,#888 60% 72%,#aaa 72% 84%,#ccc 84% 100%)"></div>
<!-- BALLOT END -->

<!-- left panel -->
<div class="a c" style="left:40px;top:155px;width:200px;font-size:14.1px;font-weight:bold;line-height:17px;color:#111">TATA CARA<br>PEMBERIAN SUARA</div>
<div class="a" style="left:14px;top:217px;width:260px;height:154px;border:3px solid #A3CFD6"></div>
<div class="a" style="left:83.5px;top:364.5px;width:6.5px;height:5px;border-radius:50%;background:#ECE08A;opacity:0.75"></div>
<div class="a" style="left:21px;top:245px;width:247px;height:118px;border:2px solid #333"></div>
<div class="a" style="left:21px;top:274px;width:247px;height:2px;background:#333"></div>
<div class="a" style="left:21px;top:304px;width:247px;height:2px;background:#333"></div>
<div class="a" style="left:21px;top:333px;width:247px;height:2px;background:#333"></div>
<div class="a" style="left:197px;top:274px;width:2px;height:89px;background:#333"></div>
<div class="tt" style="left:37px;top:254px">2</div>
<div class="tt" style="left:110px;top:254px">PARTAI STROBERI</div>
<div class="tt" style="left:32px;top:283px">DPR</div>
<div class="tt" style="left:32px;top:312px;transform:scaleX(0.882)">DPRD PROVINSI</div>
<div class="tt" style="left:32px;top:341px;transform:scaleX(0.892)">DPRD KABUPATEN / KOTA</div>
<div class="a c" style="left:40px;top:383.5px;width:200px;font-size:14px;line-height:16.5px;color:#262626"><b style="color:#111">Menuliskan</b> Nomor Urut<br>Calon pada Kolom yang di<br>sediakan</div>

<svg class="a" style="left:0;top:0" width="300" height="380" viewBox="0 0 300 380">
<g fill="none" stroke="#1F5862" stroke-linecap="round" stroke-linejoin="round">
<path d="M228.6 283.2 Q229 281 232 280.6 L239 280.2 Q235 287 228.2 295.2" stroke-width="4"/>
<path d="M229.3 312.2 Q231 308.6 236 308.6 Q239.5 309.5 236.5 313 L228 322.6 L237.6 321.3" stroke-width="3.9"/>
<path d="M230.3 339.6 L234.3 337 L229 352.4" stroke-width="3.9"/>
</g>
</svg>
<svg class="a" style="left:60px;top:230px" width="50" height="38" viewBox="0 0 50 38">
<defs><radialGradient id="sg" cx="0.55" cy="0.45" r="0.65"><stop offset="0" stop-color="#E4533F"/><stop offset="0.65" stop-color="#DA3F36"/><stop offset="1" stop-color="#C4302C"/></radialGradient></defs>
<path d="M5.3 29.5 Q4 24 7 19 Q11 12 17 8.5 Q24 5.5 31 7.5 Q37 10 38.5 16 Q39.5 22 36 27 Q31 32 22 33 Q13 33.5 8 32 Q5.5 31 5.3 29.5 Z" fill="url(#sg)"/>
<ellipse cx="32.3" cy="21.6" rx="1.9" ry="1.3" fill="#fff" opacity="0.85" transform="rotate(-50 32.3 21.6)"/>
<ellipse cx="33" cy="16.8" rx="0.9" ry="0.8" fill="#fff" opacity="0.6"/>
<path d="M31.5 4.8 L34.2 8.6 L36.8 7.8 L37.4 10.8 L42.5 11.8 L39.8 14 L43.5 16.6 L39.6 17.6 L41 22.5 L37.8 20.2 Q36.5 14 31.5 4.8 Z" fill="#4A9438"/>
</svg>

<!-- callouts -->
<svg class="a" style="left:620px;top:180px" width="340" height="300" viewBox="620 180 340 300">
<g fill="none" stroke="#E6A733" stroke-width="3" stroke-linecap="butt" stroke-linejoin="round">
<path d="M635.5 199.3 L650.5 200 Q654.5 200.8 654.5 205 L654.5 223.5 Q654.5 227.5 658.5 227.5 L674 227.5 M658.5 227.5 Q654.5 227.5 654.5 231.5 L654.5 251 Q654.5 255.2 650.5 255.8 L635.5 257.3"/>
<path d="M634.5 315.2 L650.5 316.2 Q654.3 317 654.3 321 L654.3 384.5 Q654.3 388.8 658.5 388.8 L674 388.8 M658.5 388.8 Q654.3 388.8 654.3 393 L654.3 456.5 Q654.3 460.6 650.5 461 L634.5 462.2"/>
</g>
</svg>
<div class="a" style="left:673.3px;top:192.6px;width:260px;height:73.4px;border:3.2px solid #E9AE3A;border-radius:13px"></div>
<div class="a" style="left:673.3px;top:342.9px;width:260px;height:94.2px;border:3.2px solid #E9AE3A;border-radius:13px"></div>
<div class="a c" style="left:674px;top:204px;width:260px;font-size:14px;line-height:17px;color:#222">Daftar Pasangan Calon (DPC)<br>Presiden dan Wakil Presiden ditempel<br>di papan pengumuman</div>
<div class="a c" style="left:678px;top:355.5px;width:260px;font-size:14px;line-height:17px;color:#222">Daftar Calon Tetap (DCT) Anggota<br>DPR, DPD, DPRD Provinsi dan<br>DPRD Kabupaten/Kota ditempel di<br>dalam Bilik Suara</div>

<!-- bottom bar -->
<div class="a" style="left:0;top:521px;width:960px;height:15px;background:#89C4D0"></div>
</body></html>
